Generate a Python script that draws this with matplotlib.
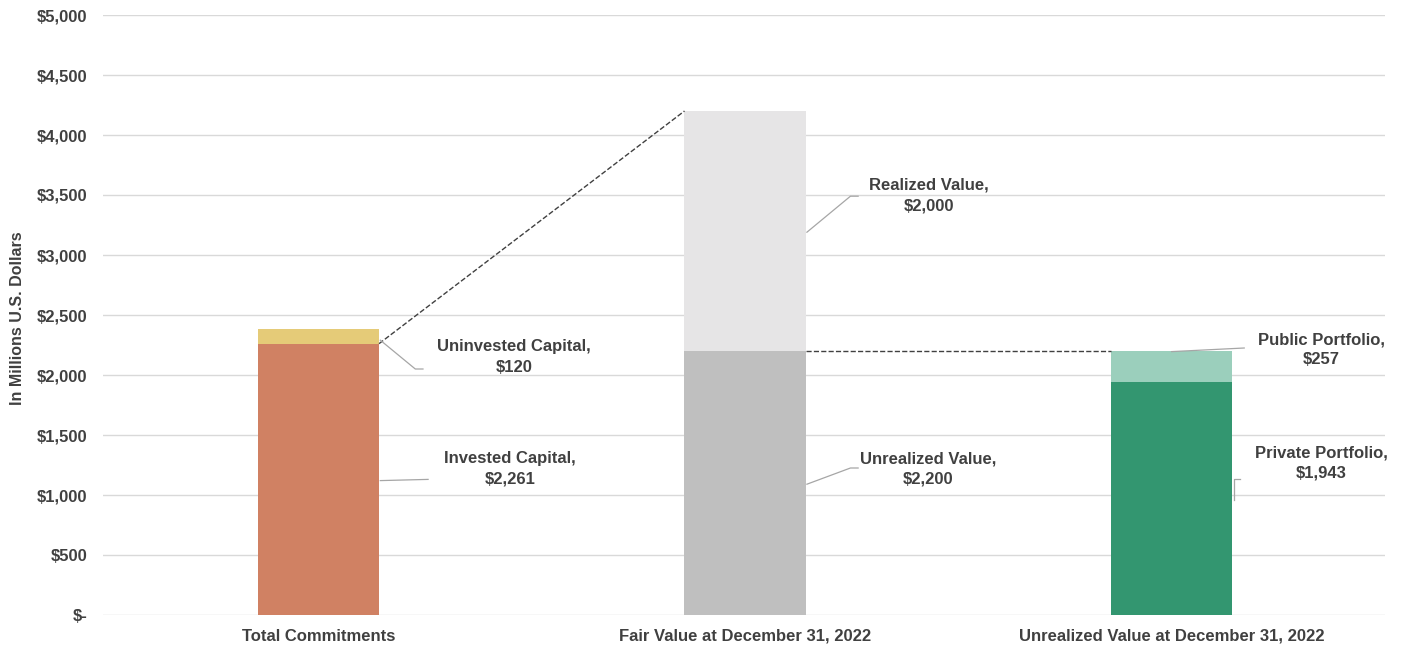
import matplotlib
matplotlib.use("Agg")
from matplotlib import pyplot
from matplotlib.ticker import FuncFormatter

categories = ["Total Commitments", "Fair Value at December 31, 2022", "Unrealized Value at December 31, 2022"]
lower_values = [2261, 2200, 1943]
upper_values = [120, 2000, 257]
lower_names = ["Invested Capital", "Unrealized Value", "Private Portfolio"]
upper_names = ["Uninvested Capital", "Realized Value", "Public Portfolio"]
lower_colors = ["#D08163", "#BFBFBF", "#339670"]
upper_colors = ["#E5CB78", "#E6E5E6", "#9BCFBC"]

pyplot.rcParams["font.family"] = ["Liberation Sans", "DejaVu Sans"]
text_color = "#404040"
width = 0.284

fig = pyplot.figure(figsize=(14.03, 6.47), dpi=100)
ax = fig.add_axes([103 / 1403, 32 / 647, 1282 / 1403, 600 / 647])

x = range(len(categories))
ax.bar(x, lower_values, width, color=lower_colors, zorder=2)
ax.bar(x, upper_values, width, bottom=lower_values, color=upper_colors, zorder=2)

ax.set_xlim(-0.505, 2.5)
ax.set_ylim(0, 5000)
ax.set_yticks(range(0, 5001, 500))
ax.yaxis.set_major_formatter(FuncFormatter(lambda v, p: "$-" if v == 0 else "${:,.0f}".format(v)))
ax.grid(axis="y", color="#D9D9D9", linewidth=1, zorder=0)
for s in ax.spines.values():
    s.set_visible(False)
ax.tick_params(length=0, labelsize=12, labelcolor=text_color)
ax.tick_params(axis="y", pad=11)
ax.tick_params(axis="x", pad=10)
ax.set_xticks(list(x))
ax.set_xticklabels(categories, fontweight="bold")
for t in ax.get_yticklabels():
    t.set_fontweight("bold")
ax.set_ylabel("In Millions U.S. Dollars", fontsize=11.5, fontweight="bold", color=text_color)
ax.yaxis.set_label_coords(-0.061, 0.495)

# dashed connectors between bars
h = width / 2
ax.plot([0 + h, 1 - h], [lower_values[0], lower_values[1] + upper_values[1]], ls="--", color="#404040", lw=1, zorder=3)
ax.plot([1 + h, 2 - h], [lower_values[1], lower_values[1]], ls="--", color="#404040", lw=1, zorder=3)

# labels with leader lines
def label(text, val, tx, ty, pts):
    ax.text(tx, ty, "{},\n${:,}".format(text, val), ha="center", va="center", fontsize=12,
            fontweight="bold", color=text_color, linespacing=1.45, zorder=4)
    ax.plot([p[0] for p in pts], [p[1] for p in pts], color="#A6A6A6", lw=0.9, zorder=4)

label(upper_names[0], upper_values[0], 0.458, 2150, [(0.145, 2290), (0.227, 2050), (0.245, 2050)])
label(lower_names[0], lower_values[0], 0.449, 1215, [(0.145, 1120), (0.257, 1130)])
label(upper_names[1], upper_values[1], 1.43, 3495, [(1.145, 3190), (1.247, 3490), (1.265, 3490)])
label(lower_names[1], lower_values[1], 1.43, 1215, [(1.145, 1090), (1.247, 1225), (1.265, 1225)])
label(upper_names[2], upper_values[2], 2.35, 2210, [(2.0, 2195), (2.17, 2225)])
label(lower_names[2], lower_values[2], 2.35, 1265, [(2.145, 960), (2.145, 1135), (2.16, 1135)])

fig.savefig("out.png", dpi=100)
